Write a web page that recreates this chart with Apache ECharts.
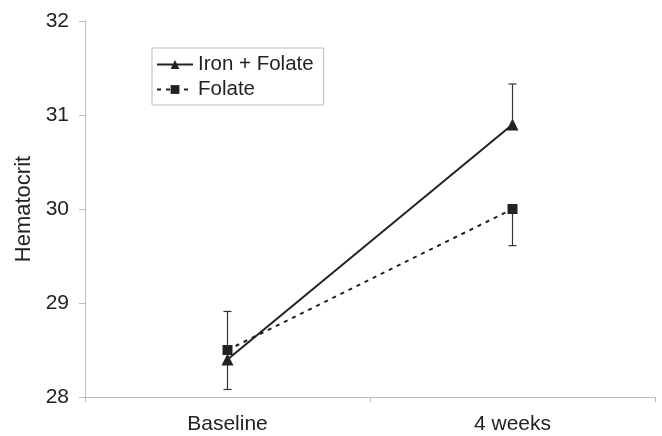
<!DOCTYPE html>
<html>
<head>
<meta charset="utf-8">
<script src="https://cdn.jsdelivr.net/npm/echarts@6/dist/echarts.min.js"></script>
<style>
  html, body { margin: 0; padding: 0; background: #fff; }
  #chart { width: 662px; height: 436px; }
</style>
</head>
<body>
<div id="chart"></div>
<script>
var categories = ['Baseline', '4 weeks'];
var ironFolate = [28.4, 30.9];
var folateOnly = [28.5, 30.0];
// one-sided error bars: [category index, from, to]
var ironErr = [[0, 28.4, 28.08], [1, 30.9, 31.33]];
var folateErr = [[0, 28.5, 28.91], [1, 30.0, 29.61]];
var yTicks = [28, 29, 30, 31, 32];

var myChart = echarts.init(document.getElementById('chart'));

function errBar(params, api) {
    var top = api.coord([api.value(0), api.value(1)]);
    var end = api.coord([api.value(0), api.value(2)]);
    var style = { stroke: '#333', lineWidth: 1.2 };
    return {
        type: 'group',
        children: [
            { type: 'line', shape: { x1: top[0], y1: top[1], x2: end[0], y2: end[1] }, style: style },
            { type: 'line', shape: { x1: end[0] - 4, y1: end[1], x2: end[0] + 4, y2: end[1] }, style: style }
        ]
    };
}

var option = {
    backgroundColor: '#fff',
    textStyle: { fontFamily: 'Liberation Sans, Arial, sans-serif' },
    grid: { left: 85, right: 7, top: 21, bottom: 39 },
    legend: {
        orient: 'vertical',
        left: 152,
        top: 48,
        width: 172,
        padding: [6, 10, 5, 4],
        itemGap: 4,
        itemWidth: 36,
        itemHeight: 11,
        borderColor: '#bbb',
        borderWidth: 1,
        data: ['Iron + Folate', 'Folate'],
        textStyle: { fontSize: 20.5, color: '#222', padding: [0, 34, 0, 0] }
    },
    xAxis: {
        type: 'category',
        data: categories,
        boundaryGap: true,
        axisLine: { lineStyle: { color: '#bbb', width: 1 } },
        axisTick: { show: true, length: 5, lineStyle: { color: '#bbb' } },
        axisLabel: { fontSize: 21, color: '#222', margin: 17 }
    },
    yAxis: {
        type: 'value',
        min: yTicks[0],
        max: yTicks[yTicks.length - 1],
        interval: 1,
        name: 'Hematocrit',
        nameLocation: 'middle',
        nameGap: 49,
        nameTextStyle: { fontSize: 22, color: '#222' },
        axisLine: { show: true, lineStyle: { color: '#bbb', width: 1 } },
        axisTick: { show: true, length: 6, lineStyle: { color: '#bbb' } },
        axisLabel: { fontSize: 21, color: '#222', margin: 16 },
        splitLine: { show: false }
    },
    series: [
        {
            name: 'Iron + Folate-err',
            type: 'custom',
            renderItem: errBar,
            data: ironErr,
            z: 1
        },
        {
            name: 'Folate-err',
            type: 'custom',
            renderItem: errBar,
            data: folateErr,
            z: 1
        },
        {
            name: 'Iron + Folate',
            type: 'line',
            data: ironFolate,
            symbol: 'triangle',
            symbolSize: 12,
            color: '#222',
            lineStyle: { color: '#222', width: 2 },
            itemStyle: { color: '#222' },
            z: 3
        },
        {
            name: 'Folate',
            type: 'line',
            data: folateOnly,
            symbol: 'rect',
            symbolSize: 10,
            color: '#222',
            lineStyle: { color: '#222', width: 2, type: [4, 5] },
            itemStyle: { color: '#222' },
            z: 3
        }
    ]
};

myChart.setOption(option);
</script>
</body>
</html>
